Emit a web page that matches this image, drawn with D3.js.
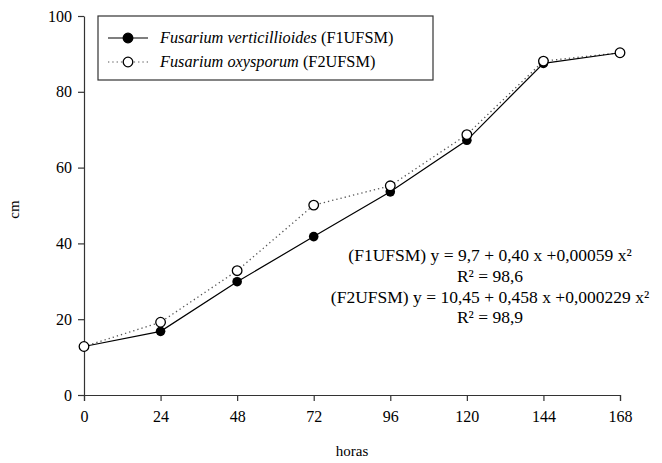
<!DOCTYPE html>
<html>
<head>
<meta charset="utf-8">
<script src="https://cdn.jsdelivr.net/npm/d3@7"></script>
<style>
  body { margin: 0; background: #fff; }
  .axis path, .axis line { stroke: #333; stroke-width: 1.2; }
</style>
</head>
<body>
<div id="chart"></div>
<script>
// data
var horas = [0, 24, 48, 72, 96, 120, 144, 168];
var f1 = [12.8, 16.8, 29.9, 41.8, 53.6, 67.2, 87.5, 90.3];
var f2 = [12.8, 19.2, 32.8, 50.1, 55.2, 68.7, 88.1, 90.3];
var xTicks = [0, 24, 48, 72, 96, 120, 144, 168];
var yTicks = [0, 20, 40, 60, 80, 100];
var equations = [
  "(F1UFSM) y = 9,7 + 0,40 x +0,00059 x\u00b2",
  "R\u00b2 = 98,6",
  "(F2UFSM) y = 10,45 + 0,458 x +0,000229 x\u00b2",
  "R\u00b2 = 98,9"
];

var fullWidth = 662, fullHeight = 463;
var margin = {top: 16, right: 42, bottom: 68, left: 84},
    width = fullWidth - margin.left - margin.right,
    height = fullHeight - margin.top - margin.bottom;

var xScale = d3.scaleLinear().domain([0, 168]).range([0, width]);
var yScale = d3.scaleLinear().domain([0, 100]).range([height, 0]);

var root = d3.select("#chart").append("svg")
    .attr("width", fullWidth)
    .attr("height", fullHeight)
    .attr("font-family", "Liberation Serif");

var svg = root.append("g")
    .attr("transform", "translate(" + margin.left + "," + margin.top + ")");

// axes
var xAxisG = svg.append("g")
    .attr("class", "x axis")
    .attr("transform", "translate(0," + height + ")")
    .call(d3.axisBottom(xScale).tickValues(xTicks).tickSize(6).tickSizeOuter(6).tickPadding(10));

var yAxisG = svg.append("g")
    .attr("class", "y axis")
    .call(d3.axisLeft(yScale).tickValues(yTicks).tickSize(6).tickSizeOuter(0).tickPadding(6));

// d3 axes put sans-serif on the group, replace it
xAxisG.attr("font-family", "Liberation Serif").attr("font-size", 16);
yAxisG.attr("font-family", "Liberation Serif").attr("font-size", 16);

// axis titles
svg.append("text")
    .attr("x", width / 2)
    .attr("y", height + 61)
    .attr("text-anchor", "middle")
    .attr("font-size", 15)
    .text("horas");

svg.append("text")
    .attr("transform", "translate(" + (-65) + "," + (height / 2 + 4) + ") rotate(-90)")
    .attr("text-anchor", "middle")
    .attr("font-size", 15)
    .text("cm");

var line = d3.line()
    .x(function(d, i) { return xScale(horas[i]); })
    .y(function(d) { return yScale(d); });

// F2 dotted line, F1 solid line
svg.append("path")
    .datum(f2)
    .attr("d", line)
    .attr("fill", "none")
    .attr("stroke", "#555")
    .attr("stroke-width", 1.3)
    .attr("stroke-dasharray", "1.3,3");

svg.append("path")
    .datum(f1)
    .attr("d", line)
    .attr("fill", "none")
    .attr("stroke", "#000")
    .attr("stroke-width", 1.2);

svg.selectAll(".dot1")
    .data(f1)
    .enter().append("circle")
    .attr("class", "dot1")
    .attr("cx", function(d, i) { return xScale(horas[i]); })
    .attr("cy", function(d) { return yScale(d); })
    .attr("r", 4.8)
    .attr("fill", "#000");

svg.selectAll(".dot2")
    .data(f2)
    .enter().append("circle")
    .attr("class", "dot2")
    .attr("cx", function(d, i) { return xScale(horas[i]); })
    .attr("cy", function(d) { return yScale(d); })
    .attr("r", 4.8)
    .attr("fill", "#fff")
    .attr("stroke", "#000")
    .attr("stroke-width", 1.3);

// legend
var legend = svg.append("g").attr("transform", "translate(14,0)");
legend.append("rect")
    .attr("width", 335)
    .attr("height", 64)
    .attr("fill", "#fff")
    .attr("stroke", "#333")
    .attr("stroke-width", 1.2);

var rows = [
  {name: "Fusarium verticillioides", code: " (F1UFSM)", fill: "#000", dash: null},
  {name: "Fusarium oxysporum", code: " (F2UFSM)", fill: "#fff", dash: "1.3,3"}
];
rows.forEach(function(r, i) {
  var y = 22 + i * 24;
  legend.append("line")
      .attr("x1", 10).attr("x2", 50)
      .attr("y1", y).attr("y2", y)
      .attr("stroke", r.dash ? "#555" : "#000")
      .attr("stroke-width", 1.2)
      .attr("stroke-dasharray", r.dash);
  legend.append("circle")
      .attr("cx", 30).attr("cy", y).attr("r", 4.8)
      .attr("fill", r.fill).attr("stroke", "#000").attr("stroke-width", 1.3);
  var t = legend.append("text")
      .attr("x", 62).attr("y", y + 5)
      .attr("font-size", 16.3);
  t.append("tspan").attr("font-style", "italic").text(r.name);
  t.append("tspan").text(r.code);
});

// regression text
svg.selectAll(".eq")
    .data(equations)
    .enter().append("text")
    .attr("class", "eq")
    .attr("x", 406)
    .attr("y", function(d, i) { return 245 + i * 20.8; })
    .attr("text-anchor", "middle")
    .attr("font-size", 17.5)
    .text(function(d) { return d; });

svg.selectAll("text").attr("fill", "#000");
</script>
</body>
</html>
